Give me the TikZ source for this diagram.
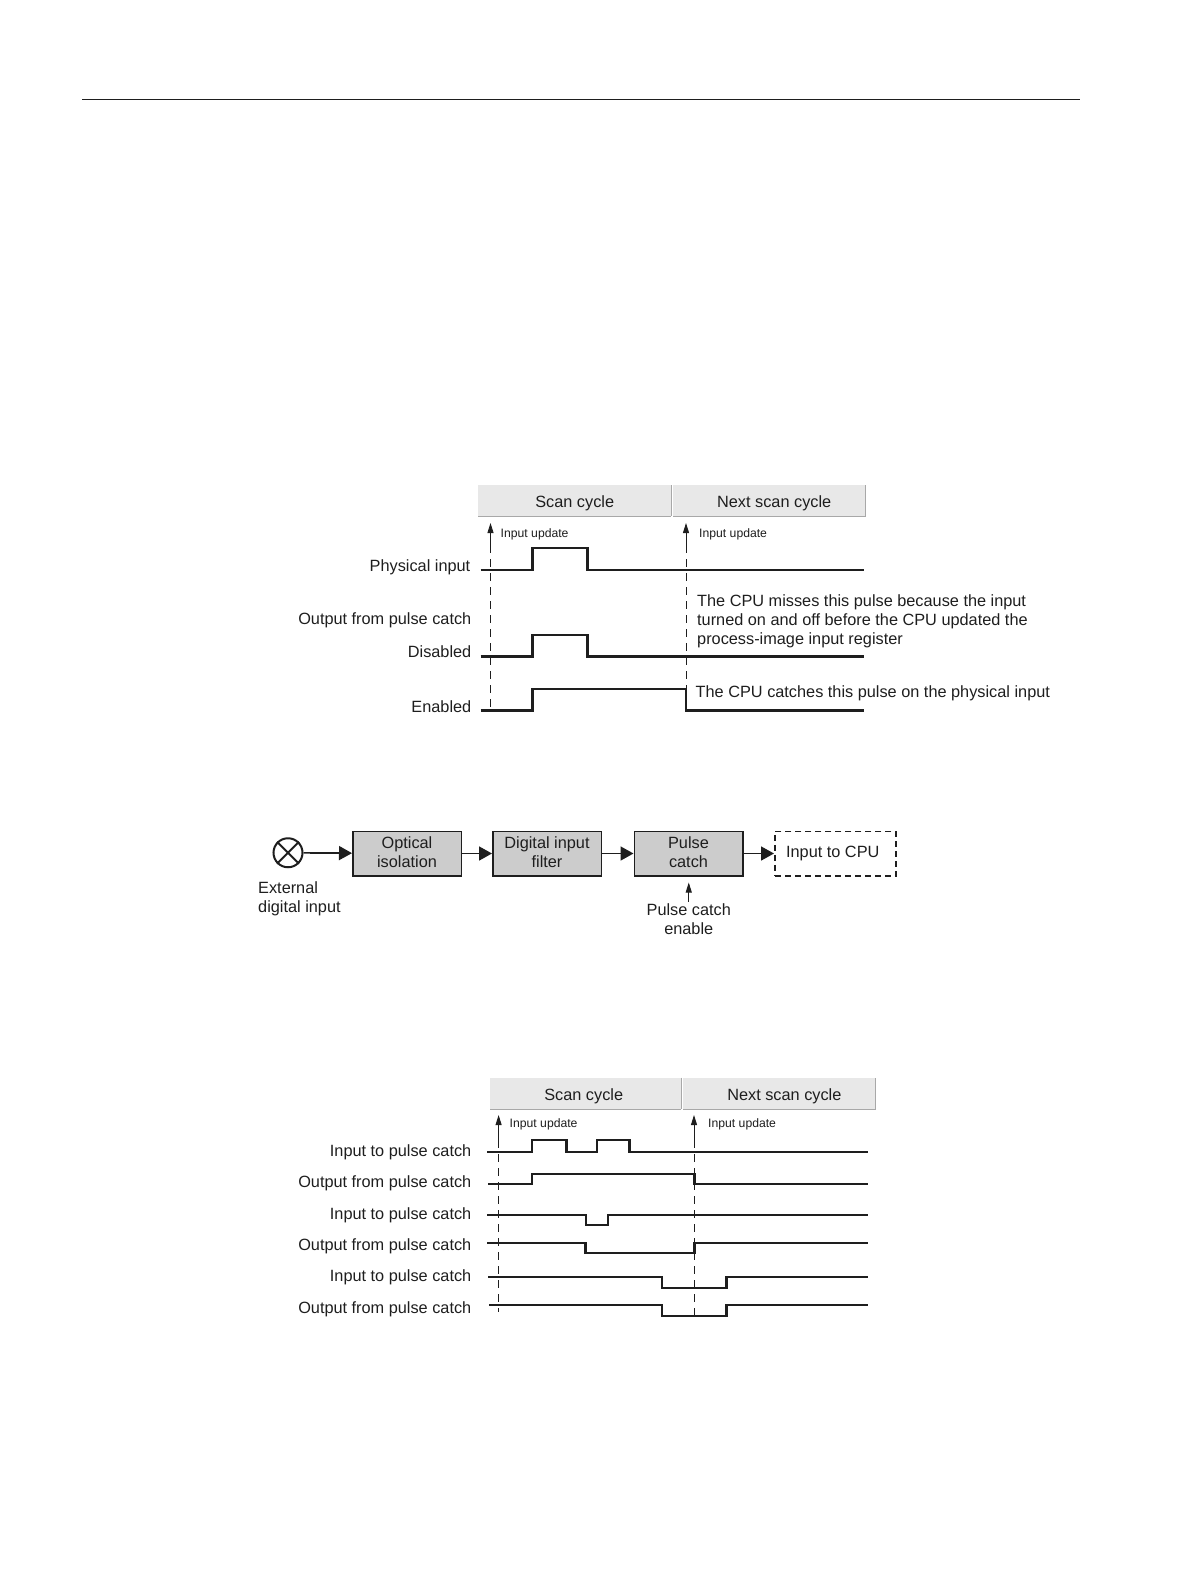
\documentclass[tikz,border=0pt]{standalone}
\usepackage{fontspec}
\setmainfont{Liberation Sans}
\usepackage{tikz}
\usetikzlibrary{arrows.meta}
\definecolor{headfill}{HTML}{E8E8E8}
\definecolor{headedge}{HTML}{A8A8A8}
\definecolor{blockfill}{HTML}{CCCCCC}
\definecolor{inkline}{HTML}{1E1E1E}
\tikzset{
  lbl/.style={font=\fontsize{16.3}{19}\selectfont,text=inkline,inner sep=0pt},
  smalllbl/.style={font=\fontsize{12.2}{14}\selectfont,text=inkline,inner sep=0pt,anchor=mid west},
  head/.style={lbl,fill=headfill,anchor=north west,minimum height=31pt,text height=17pt,text depth=3.4pt},
  block/.style={lbl,draw=inkline,fill=blockfill,line width=1.5pt,minimum width=108.5pt,minimum height=44.5pt,align=center,anchor=north west,text depth=3.5pt},
  wave/.style={draw=inkline,line width=2.1pt},
  guide/.style={draw=inkline,line width=0.9pt,dash pattern=on 8pt off 6pt},
  update/.style={draw=inkline,line width=0.9pt,-{Triangle[length=10pt,width=6pt]}},
  flow/.style={draw=inkline,line width=1.7pt,-{Triangle[length=13pt,width=14pt]}}
}
\begin{document}
\begin{tikzpicture}[x=1pt,y=-1pt]
\useasboundingbox (0,0) rectangle (1191,1587);
\draw[inkline,line width=1pt] (82,99) -- (1080,99);
% first timing chart
\node[head,minimum width=193pt] (scanA) at (478,485) {Scan cycle};
\node[head,minimum width=192pt] (nextA) at (673,485) {\hspace*{10pt}Next scan cycle};
\draw[headedge,line width=1.2pt] (scanA.south west) -- (scanA.south east);
\draw[headedge,line width=1.2pt] (scanA.north east) -- (scanA.south east);
\draw[headedge,line width=1.2pt] (nextA.south west) -- (nextA.south east) -- (nextA.north east);
\coordinate (updAtop) at (490.5,523);
\coordinate (updAmid) at (490.5,545);
\coordinate (updAend) at (490.5,712);
\coordinate (updBtop) at (686,523);
\coordinate (updBmid) at (686,545);
\coordinate (updBend) at (686,690);
\draw[update] (updAmid) -- (updAtop);
\draw[guide] (updAmid) -- (updAend);
\draw[update] (updBmid) -- (updBtop);
\draw[guide] (updBmid) -- (updBend);
\node[smalllbl] (updlblA) at (500.5,535) {Input update};
\node[smalllbl] (updlblB) at (699,535) {Input update};
\node[lbl,anchor=mid east] (phys) at (470.5,569) {Physical input};
\node[lbl,anchor=mid east] (outA) at (471.5,622) {Output from pulse catch};
\node[lbl,anchor=mid east] (disab) at (471.5,655) {Disabled};
\node[lbl,anchor=mid east] (enab) at (471.5,710) {Enabled};
\draw[wave] (480.5,570) -- (532.5,570) -- (532.5,548) -- (587.5,548) -- (587.5,570) -- (864,570);
\draw[wave] (480.5,656.5) -- (532.5,656.5) -- (532.5,635) -- (587.5,635) -- (587.5,656.5) -- (864,656.5);
\draw[wave] (480.5,710.5) -- (532.5,710.5) -- (532.5,689) -- (686,689) -- (686,710.5) -- (864,710.5);
\node[lbl,anchor=mid west] (missA) at (697,604) {The CPU misses this pulse because the input};
\node[lbl,anchor=mid west] (missB) at (697,623) {turned on and off before the CPU updated the};
\node[lbl,anchor=mid west] (missC) at (697,642) {process-image input register};
\node[lbl,anchor=mid west] (catch) at (695.5,695) {The CPU catches this pulse on the physical input};
% block chain
\node[draw=inkline,line width=2pt,circle,minimum size=29pt,inner sep=0pt] (ext) at (288,852.75) {};
\draw[inkline,line width=2pt] (ext.north west) -- (ext.south east);
\draw[inkline,line width=2pt] (ext.north east) -- (ext.south west);
\node[lbl,anchor=mid west,align=left] (extA) at (258,891) {External};
\node[lbl,anchor=mid west,align=left] (extB) at (258,910) {digital input};
\node[block] (opto) at (352,830.5) {Optical\\isolation};
\node[block] (filt) at (492,830.5) {Digital input\\filter};
\node[block] (pulse) at (633.5,830.5) {Pulse\\catch};
\node[block,fill=none,dash pattern=on 6pt off 4pt,minimum width=121pt,text depth=3pt] (cpu) at (774,830.5) {Input to CPU\hspace*{5pt}};
\draw[flow] (ext) -- (opto);
\draw[flow] (opto) -- (filt);
\draw[flow] (filt) -- (pulse);
\draw[flow] (pulse) -- (cpu);
\node[lbl,anchor=mid] (enA) at (688.75,913) {Pulse catch};
\node[lbl,anchor=mid] (enB) at (688.75,932) {enable};
\draw[update,shorten >=6pt,shorten <=2pt] (enA.north) -- (enA.north |- pulse.south);
% second timing chart
\node[head,minimum width=191pt] (scanB) at (490,1077.7) {Scan cycle\hspace*{4pt}};
\node[head,minimum width=192.3pt] (nextB) at (683,1077.7) {\hspace*{10pt}Next scan cycle};
\draw[headedge,line width=1.2pt] (scanB.south west) -- (scanB.south east);
\draw[headedge,line width=1.2pt] (scanB.north east) -- (scanB.south east);
\draw[headedge,line width=1.2pt] (nextB.south west) -- (nextB.south east) -- (nextB.north east);
\coordinate (updCtop) at (498.6,1115);
\coordinate (updCmid) at (498.6,1140);
\coordinate (updCend) at (498.6,1312);
\coordinate (updDtop) at (694,1115);
\coordinate (updDmid) at (694,1140);
\coordinate (updDend) at (694,1318);
\draw[update] (updCmid) -- (updCtop);
\draw[guide] (updCmid) -- (updCend);
\draw[update] (updDmid) -- (updDtop);
\draw[guide] (updDmid) -- (updDend);
\node[smalllbl] (updlblC) at (509.5,1125) {Input update};
\node[smalllbl] (updlblD) at (708,1125) {Input update};
\node[lbl,anchor=mid east] (inA) at (471.5,1154) {Input to pulse catch};
\node[lbl,anchor=mid east] (outB) at (471.5,1185.3) {Output from pulse catch};
\node[lbl,anchor=mid east] (inB) at (471.5,1216.7) {Input to pulse catch};
\node[lbl,anchor=mid east] (outC) at (471.5,1248) {Output from pulse catch};
\node[lbl,anchor=mid east] (inC) at (471.5,1279.3) {Input to pulse catch};
\node[lbl,anchor=mid east] (outD) at (471.5,1310.7) {Output from pulse catch};
\draw[wave] (487,1151.7) -- (532,1151.7) -- (532,1140.3) -- (566.5,1140.3) -- (566.5,1151.7) -- (597,1151.7) -- (597,1140.3) -- (629.5,1140.3) -- (629.5,1151.7) -- (868,1151.7);
\draw[wave] (488,1184.3) -- (532,1184.3) -- (532,1173.7) -- (694.5,1173.7) -- (694.5,1184.3) -- (868,1184.3);
\draw[wave] (487,1215) -- (586,1215) -- (586,1224.7) -- (608,1224.7) -- (608,1215) -- (868,1215);
\draw[wave] (487,1243) -- (585.5,1243) -- (585.5,1253.3) -- (694.5,1253.3) -- (694.5,1243) -- (868,1243);
\draw[wave] (488,1277) -- (662,1277) -- (662,1288) -- (726.5,1288) -- (726.5,1277) -- (868,1277);
\draw[wave] (489,1304.7) -- (662,1304.7) -- (662,1315.7) -- (726.5,1315.7) -- (726.5,1304.7) -- (868,1304.7);
\end{tikzpicture}
\end{document}
